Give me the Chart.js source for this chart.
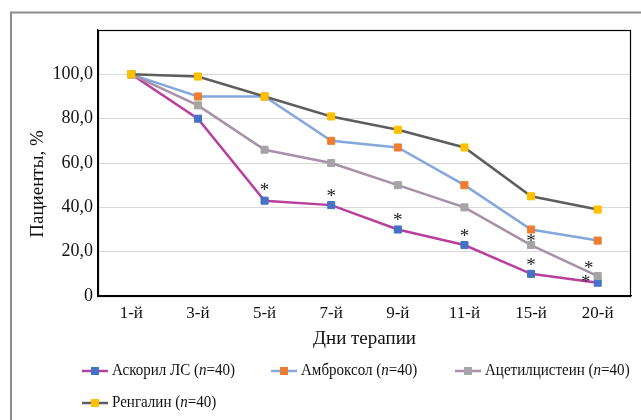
<!DOCTYPE html>
<html>
<head>
<meta charset="utf-8">
<script src="https://cdn.jsdelivr.net/npm/chart.js@4.4.1/dist/chart.umd.min.js"></script>
<style>
html,body{margin:0;padding:0;background:#fff;}
#wrap{width:641px;height:420px;position:relative;}
</style>
</head>
<body>
<div id="wrap"><canvas id="c" width="641" height="420"></canvas></div>
<script>
const categories = ['1-й','3-й','5-й','7-й','9-й','11-й','15-й','20-й'];
const seriesNames = ['Аскорил ЛС','Амброксол','Ацетилцистеин','Ренгалин'];
const seriesN = [40, 40, 40, 40];
const askoril = [100, 80, 43, 41, 30, 23, 10, 6];
const ambroxol = [100, 90, 90, 70, 67, 50, 30, 25];
const acetylcysteine = [100, 86, 66, 60, 50, 40, 23, 9];
const rengalin = [100, 99, 90, 81, 75, 67, 45, 39];
// significance marks (*) per series, per category
const askorilStars = [false, false, true, true, true, true, true, true];
const acetylStars = [false, false, false, false, false, false, true, true];
const yTickValues = [0, 20, 40, 60, 80, 100];
const yTickLabels = ['0', '20,0', '40,0', '60,0', '80,0', '100,0'];
const xTitle = 'Дни терапии';
const yTitle = 'Пациенты, %';

const lineColors = ['#B8409C', '#84A8DC', '#A98FAA', '#5E5E5E'];
const markerColors = ['#4472C4', '#ED7D31', '#A5A5A5', '#FFC000'];
const seriesData = [askoril, ambroxol, acetylcysteine, rengalin];
const starData = [askorilStars, null, acetylStars, null];
const FONT = '"Liberation Serif", "Times New Roman", serif';

const datasets = seriesData.map((d, i) => ({
  label: seriesNames[i] + ' (n=' + seriesN[i] + ')',
  data: d,
  borderColor: lineColors[i],
  backgroundColor: markerColors[i],
  pointBackgroundColor: markerColors[i],
  pointBorderColor: markerColors[i],
  pointBorderWidth: 1,
  pointStyle: 'rect',
  pointRadius: 5,
  pointHoverRadius: 5,
  borderWidth: 2.5,
  tension: 0,
  order: 3 - i
}));

const decor = {
  id: 'decor',
  beforeDraw(chart) {
    const ctx = chart.ctx;
    ctx.save();
    ctx.fillStyle = '#fff';
    ctx.fillRect(0, 0, chart.width, chart.height);
    ctx.strokeStyle = '#8C8C8C';
    ctx.lineWidth = 2;
    ctx.beginPath();
    ctx.moveTo(11, chart.height + 2);
    ctx.lineTo(11, 12.5);
    ctx.lineTo(chart.width + 2, 12.5);
    ctx.stroke();
    // y axis title
    ctx.translate(38, 184);
    ctx.rotate(-Math.PI / 2);
    ctx.fillStyle = '#111';
    ctx.font = '19px ' + FONT;
    ctx.textAlign = 'center';
    ctx.textBaseline = 'middle';
    ctx.fillText(yTitle, 0, 0);
    ctx.restore();
  },
  afterDatasetsDraw(chart) {
    const ctx = chart.ctx;
    const a = chart.chartArea;
    ctx.save();
    ctx.strokeStyle = '#000';
    ctx.lineWidth = 1.2;
    ctx.strokeRect(a.left + 0.5, a.top + 0.5, a.right - a.left - 1, a.bottom - a.top);
    // asterisks
    ctx.fillStyle = '#222';
    ctx.font = '19px ' + FONT;
    ctx.textAlign = 'center';
    ctx.textBaseline = 'middle';
    const xs = chart.scales.x, ys = chart.scales.y;
    starData.forEach((stars, si) => {
      if (!stars) return;
      stars.forEach((s, ci) => {
        if (!s) return;
        let x = xs.getPixelForValue(ci);
        let y = ys.getPixelForValue(seriesData[si][ci]);
        let dx = 0, dy = -12;
        if (ci === categories.length - 1) { dx = si === 0 ? -12 : -9; dy = si === 0 ? -4 : -11; }
        if (si === 2 && ci === 6) dy = -7;
        if (si === 0 && ci === 2) dy = -14;
        ctx.fillText('*', x + dx, y + dy + 4);
      });
    });
    ctx.restore();
  },
  afterDraw(chart) {
    const ctx = chart.ctx;
    ctx.save();
    const rows = [[0, 1, 2], [3]];
    const rowY = [371, 403];
    const colX = [82, 271, 455];
    const fs = 16;
    const squeeze = 0.94;
    rows.forEach((row, ri) => {
      row.forEach((si, k) => {
        const x0 = colX[k], y = rowY[ri];
        ctx.strokeStyle = lineColors[si];
        ctx.lineWidth = 2.5;
        ctx.beginPath(); ctx.moveTo(x0, y); ctx.lineTo(x0 + 26, y); ctx.stroke();
        ctx.fillStyle = markerColors[si];
        ctx.fillRect(x0 + 9, y - 4, 8, 8);
        ctx.fillStyle = '#111';
        ctx.textBaseline = 'middle';
        ctx.textAlign = 'left';
        ctx.save();
        ctx.translate(x0 + 30, y);
        ctx.scale(squeeze, 1);
        let tx = 0;
        const parts = [[seriesNames[si] + ' (', false], ['n', true], ['=' + seriesN[si] + ')', false]];
        parts.forEach(([t, it]) => {
          ctx.font = (it ? 'italic ' : '') + fs + 'px ' + FONT;
          ctx.fillText(t, tx, 0);
          tx += ctx.measureText(t).width;
        });
        ctx.restore();
      });
    });
    ctx.restore();
  }
};

new Chart(document.getElementById('c'), {
  type: 'line',
  data: { labels: categories, datasets },
  plugins: [decor],
  options: {
    responsive: false,
    animation: false,
    events: [],
    layout: { padding: { top: 30, right: 10, bottom: 68, left: 0 } },
    plugins: { legend: { display: false }, tooltip: { enabled: false } },
    scales: {
      x: {
        offset: true,
        grid: { display: false, drawTicks: false },
        border: { display: true, color: '#000', width: 1.2 },
        ticks: { color: '#111', font: { family: FONT, size: 17 }, padding: 7, maxRotation: 0 },
        title: { display: true, text: xTitle, color: '#111', font: { family: FONT, size: 19 }, padding: { top: 0, bottom: 2 } },
        afterFit(s) { s.height = 56; }
      },
      y: {
        min: 0, max: 120,
        afterBuildTicks(s) { s.ticks = yTickValues.concat([120]).map(v => ({ value: v })); },
        grid: { color: ctx => (ctx.tick && ctx.tick.value > 0 && ctx.tick.value < 120) ? '#D9D9D9' : 'rgba(0,0,0,0)', drawTicks: false, lineWidth: 1 },
        border: { display: true, color: '#000', width: 1.2 },
        ticks: {
          color: '#111', font: { family: FONT, size: 18 }, padding: 5,
          callback(v) { const i = yTickValues.indexOf(v); return i >= 0 ? yTickLabels[i] : ''; }
        },
        title: { display: false },
        afterFit(s) { s.width = 98; }
      }
    }
  }
});
</script>
</body>
</html>
